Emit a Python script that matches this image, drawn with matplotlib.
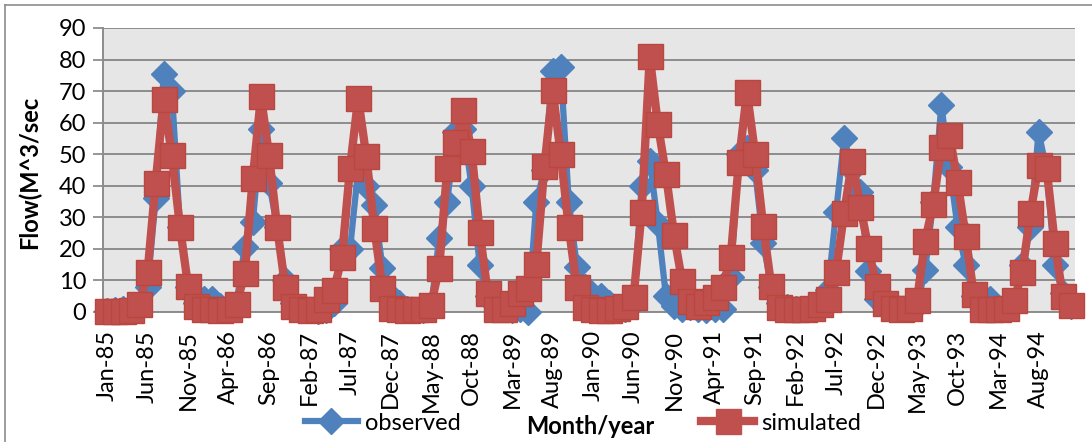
import matplotlib
matplotlib.use("Agg")
import matplotlib.pyplot as plt
from matplotlib.lines import Line2D
import numpy as np

plt.rcParams['font.family'] = ['Lato', 'DejaVu Sans']

# monthly flow, Jan-85 .. Dec-94 (one row per year)
observed = [
    0.3, 0.5, 1.0, 0.5, 1.5, 8.0, 36.0, 75.5, 70.0, 27.0, 8.0, 3.0,
    4.0, 4.0, 2.0, 1.0, 3.0, 20.7, 28.6, 58.0, 41.0, 27.0, 10.0, 3.0,
    1.0, 0.5, 0.3, 0.5, 3.0, 20.0, 20.0, 45.0, 40.0, 34.0, 14.0, 5.0,
    3.0, 1.0, 0.5, 0.5, 1.0, 23.5, 35.0, 57.0, 58.0, 40.0, 15.0, 5.0,
    2.0, 1.0, 0.5, 1.0, 0.0, 35.0, 45.0, 76.5, 77.6, 35.0, 14.4, 8.0,
    5.0, 5.0, 3.0, 1.5, 1.0, 3.0, 40.0, 48.0, 28.0, 5.0, 2.0, 1.0,
    1.5, 1.0, 0.5, 1.0, 1.0, 11.0, 50.0, 52.0, 45.0, 22.0, 8.0, 3.0,
    1.5, 1.0, 1.0, 1.5, 2.0, 7.0, 31.6, 55.0, 45.0, 38.0, 13.0, 4.0,
    1.5, 1.0, 1.0, 2.0, 2.0, 13.4, 35.0, 65.5, 46.0, 27.0, 14.8, 5.0,
    2.0, 4.0, 1.0, 1.0, 3.0, 15.0, 27.0, 57.0, 45.0, 15.0, 6.0, 2.0,
]
simulated = [
    0.3, 0.2, 0.2, 0.5, 2.6, 12.6, 41.0, 67.5, 49.7, 27.0, 8.3, 1.8,
    1.0, 0.8, 0.6, 0.8, 2.5, 12.3, 42.6, 68.3, 49.7, 26.8, 7.8, 1.8,
    1.0, 0.6, 0.8, 4.1, 7.0, 17.3, 45.7, 67.7, 49.5, 26.5, 7.6, 1.2,
    0.8, 0.6, 0.8, 1.0, 2.3, 13.9, 45.5, 54.0, 64.0, 51.0, 25.5, 6.0,
    1.0, 0.8, 3.0, 6.0, 7.6, 15.3, 46.3, 70.4, 50.2, 26.8, 7.8, 1.5,
    0.8, 0.6, 0.6, 1.2, 2.0, 4.6, 31.8, 81.0, 59.5, 43.6, 24.4, 9.7,
    3.4, 1.8, 3.2, 4.8, 7.9, 17.4, 47.6, 69.7, 50.2, 27.3, 8.3, 1.5,
    1.0, 0.8, 0.8, 1.2, 2.5, 4.0, 12.8, 31.5, 48.0, 33.4, 20.2, 8.1,
    2.8, 1.3, 1.0, 1.2, 3.9, 22.6, 34.2, 52.3, 56.2, 41.3, 24.0, 5.7,
    1.0, 0.8, 0.8, 1.2, 3.9, 12.8, 31.3, 46.5, 45.5, 21.8, 5.0, 2.1,
]
tick_labels = ['Jan-85', 'Jun-85', 'Nov-85', 'Apr-86', 'Sep-86', 'Feb-87',
               'Jul-87', 'Dec-87', 'May-88', 'Oct-88', 'Mar-89', 'Aug-89',
               'Jan-90', 'Jun-90', 'Nov-90', 'Apr-91', 'Sep-91', 'Feb-92',
               'Jul-92', 'Dec-92', 'May-93', 'Oct-93', 'Mar-94', 'Aug-94']

blue = '#4F81BD'
red = '#C0504D'
grid_c = '#8C8C8C'

W, H = 1092, 442
fig = plt.figure(figsize=(W / 100, H / 100), dpi=100)
# plot area in pixels: x 103..1075, y 28..312
ax = fig.add_axes([103 / W, 1 - 312 / H, (1075 - 103) / W, (312 - 28) / H])
ax.set_facecolor('#E6E6E6')

x = np.arange(len(observed))
ax.plot(x, observed, color=blue, lw=4.5, marker='D', ms=13, mfc=blue, mec=blue,
        clip_on=False, zorder=3)
ax.plot(x, simulated, color=red, lw=6, marker='s', ms=18, mfc=red, mec='#B9463F',
        mew=1, clip_on=False, zorder=4)

ax.set_xlim(-0.5, len(observed) - 0.5)
ax.set_ylim(0, 90)
ax.set_yticks(range(0, 91, 10))
ax.set_xticks(range(0, len(observed), 5))
ax.set_xticklabels(tick_labels, rotation=90, fontsize=17)
ax.tick_params(axis='y', labelsize=17, length=7, width=1.3, color=grid_c, pad=5)
ax.tick_params(axis='x', length=0, pad=13)
ax.yaxis.grid(True, color=grid_c, lw=1.4)
ax.set_axisbelow(True)
for s in ['top', 'right']:
    ax.spines[s].set_visible(False)
for s in ['left', 'bottom']:
    ax.spines[s].set_color(grid_c)
    ax.spines[s].set_linewidth(1.4)

fig.text(29 / W, 1 - 172 / H, 'Flow(M^3/sec', rotation=90, fontsize=17,
         fontweight='bold', ha='center', va='center')
fig.text(590 / W, 1 - 427 / H, 'Month/year', fontsize=17, fontweight='bold',
         ha='center', va='center')

handles = [Line2D([], [], color=blue, lw=4.5, marker='D', ms=13),
           Line2D([], [], color=red, lw=6, marker='s', ms=18)]
fig.legend(handles, ['observed', 'simulated'], loc='center',
           bbox_to_anchor=(583 / W, 1 - 423 / H), ncol=2, frameon=False,
           fontsize=17, handlelength=2.25, handletextpad=0.3,
           columnspacing=10.2, borderpad=0, borderaxespad=0)

# outer chart border
fig.add_artist(Line2D([5 / W, 5 / W], [0, 1 - 5 / H], color=grid_c, lw=1.2))
fig.add_artist(Line2D([5 / W, 1], [1 - 5 / H, 1 - 5 / H], color=grid_c, lw=1.2))

fig.savefig('out.png', dpi=100)
